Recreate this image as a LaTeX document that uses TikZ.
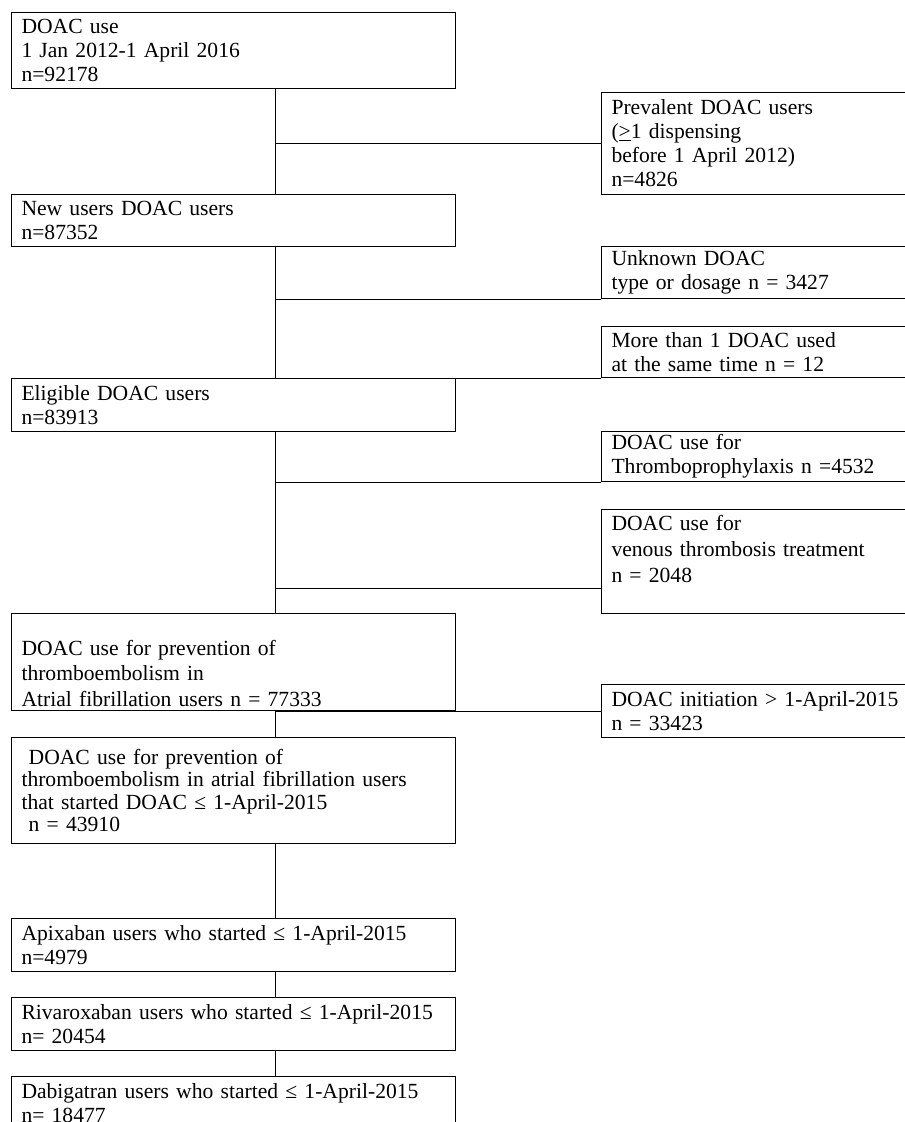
\documentclass[tikz,border=0pt]{standalone}
\usepackage{fontspec}
\setmainfont{Liberation Serif}
\begin{document}
\begin{tikzpicture}[x=1pt, y=-1pt, line width=1pt,
    main/.style = {draw, rectangle, anchor=north west, align=left, inner xsep=10pt, inner ysep=2pt, text width=424pt, font=\fontsize{21.6}{24}\selectfont},
    side/.style = {main, text width=300pt}]
        \useasboundingbox (0,0) rectangle (905,1122);
        \clip (0,0) rectangle (905,1122);
        \coordinate (t) at (275,0);
        % main flow
        \node[main, minimum height=76pt] (1) at (11,12) {DOAC use\\1 Jan 2012-1 April 2016\\n=92178};
        \node[main, minimum height=52pt] (2) at (11,194) {New users DOAC users\\n=87352};
        \node[main, minimum height=53pt] (3) at (11,378) {Eligible DOAC users\\n=83913};
        \node[main, minimum height=97pt, font=\fontsize{21.6}{25.5}\selectfont] (4) at (11,613) {\rule{0pt}{12pt}\\DOAC use for prevention of\\thromboembolism in\\Atrial fibrillation users n = 77333};
        \node[main, minimum height=106pt, font=\fontsize{21.6}{22.5}\selectfont] (5) at (11,737) {~DOAC use for prevention of\\thromboembolism in atrial fibrillation users\\that started DOAC ≤ 1-April-2015\\~n = 43910};
        \node[main, minimum height=53pt] (6) at (11,918) {Apixaban users who started ≤ 1-April-2015\\n=4979};
        \node[main, minimum height=53pt] (7) at (11,997) {Rivaroxaban users who started ≤ 1-April-2015\\n= 20454};
        \node[main, minimum height=53pt] (8) at (11,1076) {Dabigatran users who started ≤ 1-April-2015\\n= 18477};
        % excluded
        \node[side, minimum height=102pt] (e1) at (601,92) {Prevalent DOAC users\\(\underline{>}1 dispensing\\before 1 April 2012)\\n=4826};
        \node[side, minimum height=52pt] (e2) at (601,246) {Unknown DOAC\\type or dosage n = 3427};
        \node[side, minimum height=51pt] (e3) at (601,326) {More than 1 DOAC used\\at the same time n = 12};
        \node[side, minimum height=50pt] (e4) at (601,431) {DOAC use for\\Thromboprophylaxis n =4532};
        \node[side, minimum height=104pt, font=\fontsize{21.6}{26}\selectfont] (e5) at (601,509) {DOAC use for\\venous thrombosis treatment\\n = 2048\\\mbox{}};
        \node[side, minimum height=53pt] (e6) at (601,684) {DOAC initiation > 1-April-2015\\n = 33423};
        \coordinate (v) at ([yshift=26pt]e5.south west);
        % trunk
        \draw (1.south -| t) -- (2.north -| t);
        \draw (2.south -| t) -- (3.north -| t);
        \draw (3.south -| t) -- (4.north -| t);
        \draw (4.south -| t) -- (5.north -| t);
        \draw (5.south -| t) -- (6.north -| t);
        \draw (6.south -| t) -- (7.north -| t);
        \draw (7.south -| t) -- (8.north -| t);
        % branches
        \draw (e1.west -| t) -- (e1.west);
        \draw (e2.south west -| t) -- (e2.south west);
        \draw (e3.south west -| t) -- (e3.south west);
        \draw (e4.south west -| t) -- (e4.south west);
        \draw (v -| t) -- (v);
        \draw (e6.west -| t) -- (e6.west);
    \end{tikzpicture}
\end{document}
